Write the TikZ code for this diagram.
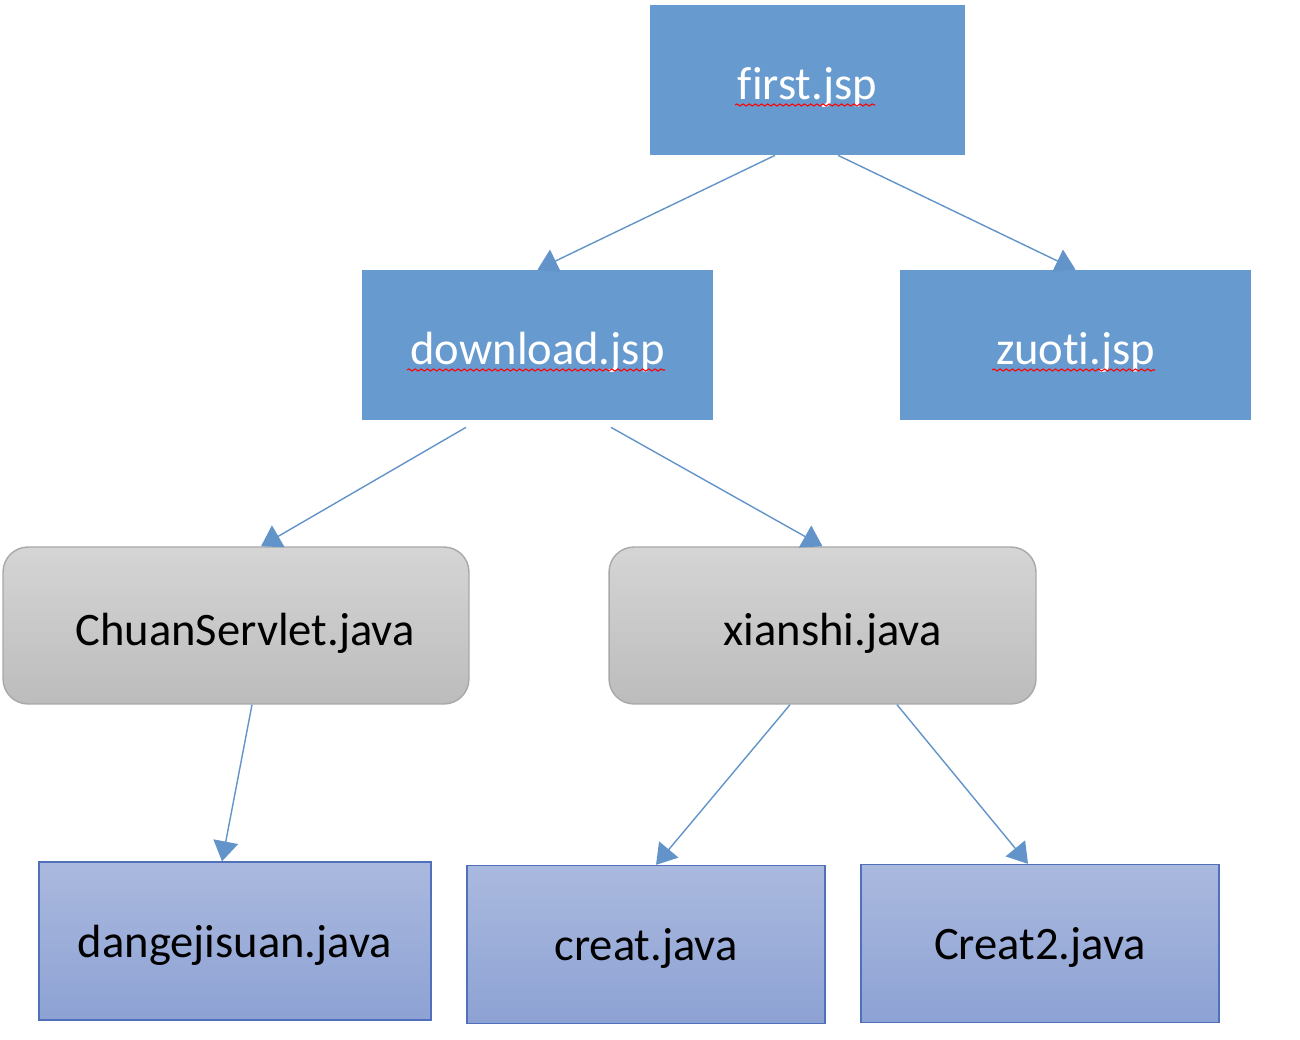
\documentclass[tikz,border=0pt]{standalone}
\usepackage{fontspec}
\setmainfont{Carlito}[Ligatures={NoCommon,NoContextual}]
\usetikzlibrary{arrows.meta}
\usetikzlibrary{decorations.pathmorphing}

\definecolor{jspblue}{RGB}{103,155,208}
\definecolor{linkblue}{RGB}{98,148,202}
\definecolor{grytop}{RGB}{213,213,213}
\definecolor{grybot}{RGB}{188,188,188}
\definecolor{gryline}{RGB}{168,168,168}
\definecolor{lavtop}{RGB}{170,185,222}
\definecolor{lavbot}{RGB}{141,162,212}
\definecolor{lavline}{RGB}{80,112,188}

\begin{document}
\begin{tikzpicture}[x=0.02cm,y=-0.02cm,
font=\fontsize{26.5}{32}\selectfont,
jsp/.style={fill=jspblue, text=white, inner sep=0pt, text height=0.9cm, text depth=0.1cm, minimum width=7.02cm, minimum height=3cm},
servlet/.style={draw=gryline, line width=0.8pt, rounded corners=0.5cm, top color=grytop, bottom color=grybot, inner sep=0pt, text height=0.88cm, text depth=0.1cm, minimum height=3.14cm},
javabox/.style={draw=lavline, line width=0.8pt, top color=lavtop, bottom color=lavbot, inner sep=0pt, text height=0.74cm, text depth=0.1cm, minimum width=7.16cm, minimum height=3.16cm},
link/.style={draw=linkblue, line width=0.8pt, -{Triangle[width=0.5cm,length=0.4cm]}},
spell/.style={draw=red, line width=0.6pt, decorate, decoration={snake, amplitude=0.6pt, segment length=3.5pt}}]
\useasboundingbox (0,0) rectangle (1300,1040);

% jsp pages
\node[jsp, minimum width=6.3cm] (first) at (807.5,80) {first.jsp};
\node[jsp] (download) at (537.5,345) {download.jsp};
\node[jsp] (zuoti) at (1075.5,345) {zuoti.jsp};

% servlets
\node[servlet, minimum width=9.32cm] (chuan) at (236,625.5) {\hspace{0.36cm}ChuanServlet.java};
\node[servlet, minimum width=8.54cm] (xianshi) at (822.5,625.5) {\hspace{0.4cm}xianshi.java};

% java classes
\node[javabox, minimum width=7.84cm] (dange) at (235,941) {dangejisuan.java};
\node[javabox] (creat) at (646,944.5) {creat.java};
\node[javabox] (creat2) at (1040,943.5) {Creat2.java};

% spell check marks
\draw[spell] ([xshift=-1.45cm,yshift=-0.5cm]first.center) -- ([xshift=1.35cm,yshift=-0.5cm]first.center);
\draw[spell] ([xshift=-2.61cm,yshift=-0.5cm]download.center) -- ([xshift=2.55cm,yshift=-0.5cm]download.center);
\draw[spell] ([xshift=-1.67cm,yshift=-0.5cm]zuoti.center) -- ([xshift=1.59cm,yshift=-0.5cm]zuoti.center);

% links
\draw[link] ([xshift=-0.65cm]first.south) -- (download.north);
\draw[link] ([xshift=0.61cm]first.south) -- (zuoti.north);
\draw[link] ([xshift=-1.43cm,yshift=-0.14cm]download.south) -- ([xshift=0.5cm]chuan.north);
\draw[link] ([xshift=1.47cm,yshift=-0.14cm]download.south) -- (xianshi.north);
\draw[link] ([xshift=0.32cm]chuan.south) -- ([xshift=-0.26cm]dange.north);
\draw[link] ([xshift=-0.65cm]xianshi.south) -- ([xshift=0.2cm]creat.north);
\draw[link] ([xshift=1.49cm]xianshi.south) -- ([xshift=-0.24cm]creat2.north);
\end{tikzpicture}
\end{document}
